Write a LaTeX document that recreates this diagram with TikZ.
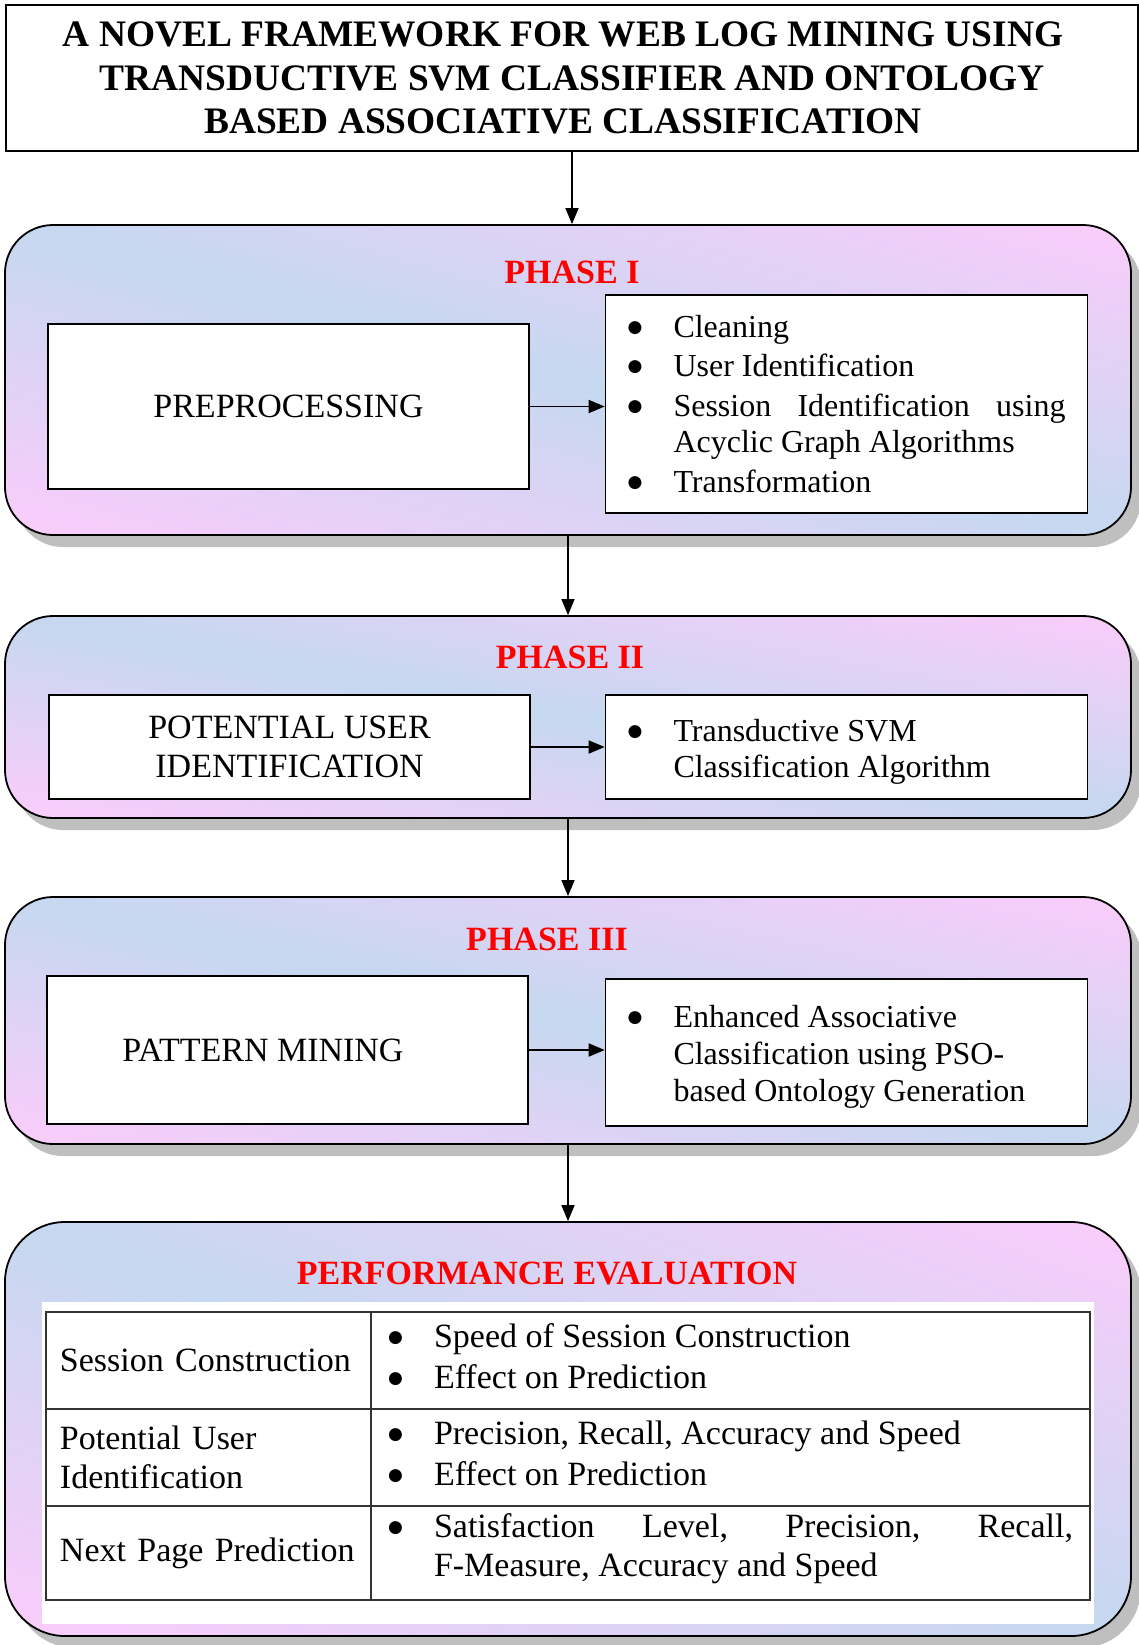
\documentclass[tikz,border=0pt]{standalone}
\usepackage{fontspec}
\setmainfont{Liberation Serif}
\newfontfamily\symfont{DejaVu Sans}
\usetikzlibrary{shadows,arrows.meta}

\definecolor{phblue}{RGB}{197,216,240}
\definecolor{phpink}{RGB}{251,204,251}

% blue along the falling diagonal, pink towards the other two corners
\pgfdeclarefunctionalshading{phshade}{\pgfpointorigin}{\pgfpoint{100bp}{100bp}}{}{
  add 100 sub 50 div abs dup 1 gt {pop 1} if
  dup 0.211 mul 0.773 add exch
  dup -0.047 mul 0.847 add exch
  0.043 mul 0.941 add
}

% bullet item with hanging indent
\newcommand\bltmark{\makebox[23pt][l]{\smash{\raisebox{2.5pt}{\fontsize{8.5}{0}\symfont ●}}}}
\newcommand\blt[1]{\noindent\hangindent=23pt\hangafter=1\bltmark#1\par}

\begin{document}
\begin{tikzpicture}[x=0.5pt,y=-0.5pt,
    titlebox/.style={draw, line width=1pt, minimum width=566pt, minimum height=73pt, align=center,
      font=\fontsize{18.7}{21.75}\selectfont\bfseries},
    phase/.style={draw, line width=0.9pt, rounded corners=24pt, minimum width=563pt, shading=phshade,
      drop shadow={shadow xshift=5pt, shadow yshift=-6pt, fill=gray!50, opacity=1}},
    phlab/.style={text=red, font=\fontsize{17}{20}\selectfont\bfseries},
    box/.style={draw, line width=0.8pt, fill=white, minimum width=240.5pt, align=center,
      font=\fontsize{17}{19.5}\selectfont},
    list/.style={draw, line width=0.8pt, fill=white, text width=219pt, inner xsep=11pt, align=justify,
      font=\fontsize{16}{18.4}\selectfont\setlength{\parskip}{1.2pt}},
    lcell/.style={draw=black!80, line width=0.8pt, text width=148.5pt, inner xsep=7pt, align=left,
      font=\fontsize{17}{19.5}\selectfont},
    rcell/.style={draw=black!80, line width=0.8pt, text width=342.5pt, inner xsep=8.5pt, align=justify,
      font=\fontsize{17}{19.5}\selectfont\setlength{\parskip}{1pt}, execute at end node={\vspace{4.2pt}}},
    arr/.style={-{Triangle[length=8pt,width=6.5pt]}, line width=0.8pt}]
  \useasboundingbox (0,0) rectangle (1139,1645);

  \node[titlebox] (title) at (572,78) {A NOVEL FRAMEWORK FOR WEB LOG MINING USING\hspace*{9pt}\\
    TRANSDUCTIVE SVM CLASSIFIER AND ONTOLOGY\hspace*{9pt}\\BASED ASSOCIATIVE CLASSIFICATION\hspace*{9pt}};

  % phase I
  \node[phase, minimum height=155pt] (ph1) at (568,380) {};
  \node[phlab] (lab1) at (572,272) {PHASE I};
  \node[box, minimum height=82.5pt] (pre) at (288.5,406.5) {PREPROCESSING};
  \node[list, minimum height=109pt] (prelist) at (846.5,404) {\blt{Cleaning}\blt{User Identification}%
    \blt{Session Identification using\linebreak Acyclic Graph Algorithms}\blt{Transformation}};

  % phase II
  \node[phase, minimum height=101pt] (ph2) at (568,717) {};
  \node[phlab] (lab2) at (570,657) {PHASE II};
  \node[box, minimum height=52pt] (pot) at (289.5,747) {POTENTIAL USER\\IDENTIFICATION};
  \node[list, minimum height=52pt, execute at end node={\vspace{-4.8pt}}] (potlist) at (846.5,747)
    {\blt{Transductive SVM\newline Classification Algorithm}};

  % phase III
  \node[phase, minimum height=123.5pt] (ph3) at (568,1020.5) {};
  \node[phlab] (lab3) at (547,939) {PHASE III};
  \node[box, minimum height=74pt] (pat) at (287.5,1050) {PATTERN MINING\hspace{24.5pt}};
  \node[list, minimum height=73.5pt, execute at end node={\vspace{-4.5pt}}] (patlist) at (846.5,1052.5)
    {\blt{Enhanced Associative\newline Classification using PSO-\newline based Ontology Generation}};

  % evaluation
  \node[phase, rounded corners=30pt, minimum height=207pt] (perf) at (568,1429) {};
  \node[phlab] (plab) at (547,1273) {PERFORMANCE EVALUATION};
  \node[fill=white, minimum width=526pt, minimum height=161pt] (tblbg) at (568,1463) {};
  \node[lcell, minimum height=48.5pt] (c11) at (208.5,1360.5) {Session Construction};
  \node[rcell, minimum height=48.5pt] (c12) at (730.5,1360.5) {\blt{Speed of Session Construction}%
    \blt{Effect on Prediction}};
  \node[lcell, minimum height=48.5pt] (c21) at (208.5,1457.5) {Potential User\\Identification};
  \node[rcell, minimum height=48.5pt] (c22) at (730.5,1457.5) {\blt{Precision, Recall, Accuracy and Speed}%
    \blt{Effect on Prediction}};
  \node[lcell, minimum height=47pt] (c31) at (208.5,1553) {Next Page Prediction};
  \node[rcell, minimum height=47pt, execute at end node={}] (c32) at (730.5,1553)
    {\blt{Satisfaction Level, Precision, Recall,\linebreak \mbox{F-Measure}, Accuracy and Speed}};

  \draw[arr] (title.south) -- (title.south |- ph1.north);
  \draw[arr] (ph1.south) -- (ph2.north);
  \draw[arr] (ph2.south) -- (ph3.north);
  \draw[arr] (ph3.south) -- (perf.north);
  \draw[arr] (pre.east) -- (pre.east -| prelist.west);
  \draw[arr] (pot.east) -- (potlist.west);
  \draw[arr] (pat.east) -- (pat.east -| patlist.west);
\end{tikzpicture}
\end{document}
